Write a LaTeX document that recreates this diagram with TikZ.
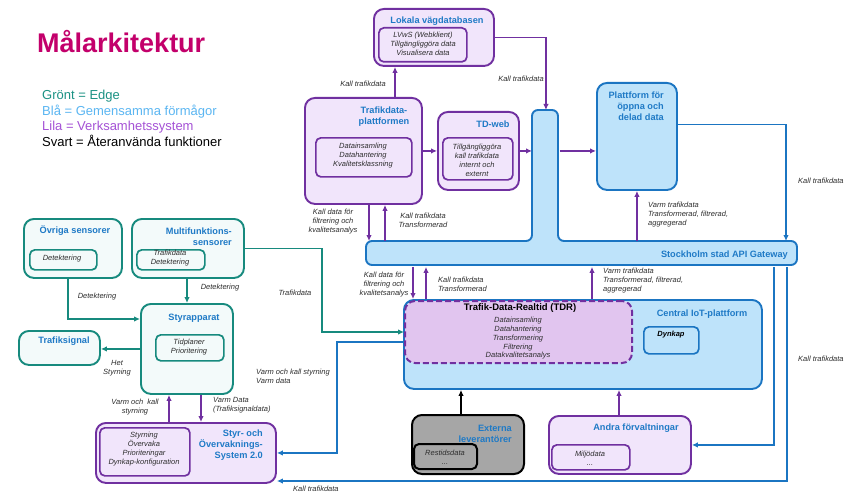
\documentclass[tikz,border=0pt]{standalone}
\usepackage{fontspec}
\setmainfont{Liberation Sans}
\usetikzlibrary{arrows.meta,calc}
\definecolor{tealc}{HTML}{178A7E}
\definecolor{tealf}{HTML}{F3FAFA}
\definecolor{purc}{HTML}{7030A0}
\definecolor{purf}{HTML}{F1E5FB}
\definecolor{bluc}{HTML}{1B75C2}
\definecolor{bluf}{HTML}{BEE3FA}
\definecolor{tdrf}{HTML}{E1C5EF}
\definecolor{grayf}{HTML}{A6A6A6}
\definecolor{titblue}{HTML}{1F7AC6}
\definecolor{magc}{HTML}{C3006B}
\definecolor{legteal}{HTML}{1B9284}
\definecolor{legblue}{HTML}{5BB6F2}
\definecolor{legpur}{HTML}{A552D6}
\definecolor{txtgray}{HTML}{2E2E2E}
\newcommand\mkbox[6]{\node[#6, minimum width={(#4-#2)*1pt}, minimum height={(#5-#3)*1pt}] (#1) at (#2,#3) {};}
\tikzset{
  obox/.style={draw, line width=1.9pt, rounded corners=10pt, anchor=north west, inner sep=0pt},
  ibox/.style={draw, line width=1.7pt, rounded corners=5pt, anchor=north west, inner sep=0pt},
  tealbox/.style={obox, draw=tealc, fill=tealf},
  tealibox/.style={ibox, draw=tealc, fill=tealf},
  purbox/.style={obox, draw=purc, fill=purf},
  puribox/.style={ibox, draw=purc, fill=purf},
  blubox/.style={obox, draw=bluc, fill=bluf},
  bluibox/.style={ibox, draw=bluc, fill=bluf},
  graybox/.style={obox, draw=black, line width=2pt, fill=grayf},
  grayibox/.style={ibox, draw=black, line width=2pt, fill=grayf},
  tdrbox/.style={obox, draw=purc, line width=2pt, dash pattern=on 6pt off 3pt, fill=tdrf},
  ttl/.style={font=\fontsize{9.2}{11}\selectfont\bfseries, text=titblue, inner sep=0pt},
  itx/.style={font=\fontsize{7.5}{9}\selectfont\itshape, text=txtgray, inner sep=0pt, align=center},
  lbl/.style={font=\fontsize{7.5}{9}\selectfont\itshape, text=txtgray, inner sep=0pt},
  leg/.style={font=\fontsize{13}{16}\selectfont, inner sep=0pt, anchor=base west},
  conn/.style={line width=1.4pt, -{Latex[length=6pt,width=5.5pt]}},
  parr/.style={conn, draw=purc},
  tarr/.style={conn, draw=tealc},
  barr/.style={conn, draw=bluc},
  karr/.style={conn, draw=black}
}
\begin{document}
\begin{tikzpicture}[x=1pt,y=-1pt]
\fill[white] (0,0) rectangle (845,492);
\useasboundingbox (0,0) rectangle (845,492);

% title and legend
\node[inner sep=0pt, anchor=base west, font=\fontsize{27}{30}\selectfont\bfseries, text=magc] (title) at (37,53) {Målarkitektur};
\node[leg, text=legteal] (leg1) at (42,100) {Grönt = Edge};
\node[leg, text=legblue] (leg2) at (42,115.5) {Blå = Gemensamma förmågor};
\node[leg, text=legpur] (leg3) at (42,131) {Lila = Verksamhetssystem};
\node[leg, text=black] (leg4) at (42,146.5) {Svart = Återanvända funktioner};

% API gateway T-shape
\draw[draw=bluc, fill=bluf, line width=1.9pt, rounded corners=6pt]
  (532,110) -- (558,110) -- (558,241) -- (797,241) -- (797,265) -- (366,265) -- (366,241) -- (532,241) -- cycle;
\mkbox{apiv}{532}{110}{558}{241}{anchor=north west, inner sep=0pt, outer sep=0.95pt}
\mkbox{apih}{366}{241}{797}{265}{anchor=north west, inner sep=0pt, outer sep=0.95pt}

% boxes
\mkbox{lokala}{373}{8}{493}{65}{purbox}
\mkbox{lokalai}{378}{27}{466}{61}{puribox}
\mkbox{tdp}{304}{97}{421}{203}{purbox}
\mkbox{tdpi}{315}{137}{411}{176}{puribox}
\mkbox{tdweb}{437}{111}{518}{189}{purbox}
\mkbox{tdwebi}{442}{137}{512}{179}{puribox}
\mkbox{platform}{596}{82}{676}{189}{blubox}
\mkbox{iot}{403}{299}{761}{388}{blubox}
\mkbox{tdr}{404}{300}{631}{362}{tdrbox}
\mkbox{dynkap}{643}{326}{698}{353}{bluibox}
\mkbox{externa}{411}{414}{523}{473}{graybox}
\mkbox{externai}{413}{443}{476}{468}{grayibox}
\mkbox{andra}{548}{415}{690}{473}{purbox}
\mkbox{andrai}{551}{444}{629}{469}{puribox}
\mkbox{styr}{95}{422}{275}{482}{purbox}
\mkbox{styri}{99}{427}{189}{475}{puribox}
\mkbox{ovriga}{23}{218}{121}{277}{tealbox}
\mkbox{ovrigai}{29}{249}{96}{269}{tealibox}
\mkbox{multi}{131}{218}{243}{277}{tealbox}
\mkbox{multii}{136}{249}{204}{269}{tealibox}
\mkbox{styrapp}{140}{303}{232}{393}{tealbox}
\mkbox{styrappi}{155}{334}{223}{360}{tealibox}
\mkbox{trafsig}{18}{330}{99}{364}{tealbox}

% titles
\node[ttl] (lokalat) at (437,21) {Lokala vägdatabasen};
\node[ttl, align=center] (tdpt) at (384,117) {Trafikdata-\\plattformen};
\node[ttl] (tdwebt) at (493,124) {TD-web};
\node[ttl, align=right, anchor=east] (platformt) at (664,106) {Plattform för\\öppna och\\delad data};
\node[ttl, anchor=east] (apit) at (788,255) {Stockholm stad API Gateway};
\node[ttl] (iott) at (702,314) {Central IoT-plattform};
\node[ttl, text=black, font=\fontsize{9.5}{11}\selectfont\bfseries] (tdrt) at (520,308) {Trafik-Data-Realtid (TDR)};
\node[ttl, align=right, anchor=east] (externat) at (512,433.5) {Externa\\leverantörer};
\node[ttl] (andrat) at (636,428) {Andra förvaltningar};
\node[ttl, align=right, anchor=east] (styrt) at (263,445) {Styr- och\\Övervaknings-\\System 2.0};
\node[ttl] (ovrigat) at (75,231) {Övriga sensorer};
\node[ttl, align=right, anchor=east] (multit) at (232,236.5) {Multifunktions-\\sensorer};
\node[ttl] (styrappt) at (194,318) {Styrapparat};
\node[ttl] (trafsigt) at (64,341) {Trafiksignal};

% inner texts
\node[itx] (lokalax) at (423,44) {LVwS (Webklient)\\Tillgängliggöra data\\Visualisera data};
\node[itx] (tdpx) at (363,156) {Datainsamling\\Datahantering\\Kvalitetsklassning};
\node[itx] (tdwebx) at (477,160.5) {Tillgängliggöra\\kall trafikdata\\internt och\\externt};
\node[itx, font=\fontsize{7.5}{8.75}\selectfont\itshape] (tdrx) at (518,338.5) {Datainsamling\\Datahantering\\Transformering\\Filtrering\\Datakvalitetsanalys};
\node[itx, font=\fontsize{7.5}{9}\selectfont\bfseries\itshape, text=black] (dynkapx) at (671,335) {Dynkap};
\node[itx] (ovrigax) at (62,259) {Detektering};
\node[itx] (multix) at (170,258.5) {Trafikdata\\Detektering};
\node[itx] (styrappx) at (189,347) {Tidplaner\\Prioritering};
\node[itx] (styrx) at (144,449.5) {Styrning\\Övervaka\\Prioriteringar\\Dynkap-konfiguration};
\node[itx] (externax) at (445,457.5) {Restidsdata\\...};
\node[itx] (andrax) at (590,458.5) {Miljödata\\...};

% purple connectors
\draw[parr] (395,0 |- tdp.north) -- (395,0 |- lokala.south);
\draw[parr] (lokala.east) -| (apiv.north);
\draw[parr] (tdp.east) -- (tdweb.west);
\draw[parr] (tdweb.east) -- (tdweb.east -| apiv.west);
\draw[parr] (apiv.east |- tdweb.east) -- (platform.west |- tdweb.east);
\draw[parr] (platform.south |- apih.north) -- (platform.south);
\draw[parr] (369,0 |- tdp.south) -- (369,0 |- apih.north);
\draw[parr] (385,0 |- apih.north) -- (385,0 |- tdp.south);
\draw[parr] (413,0 |- apih.south) -- (413,0 |- iot.north);
\draw[parr] (426,0 |- iot.north) -- (426,0 |- apih.south);
\draw[parr] (592,0 |- iot.north) -- (592,0 |- apih.south);
\draw[parr] (619,0 |- andra.north) -- (619,0 |- iot.south);
\draw[parr] (169,0 |- styr.north) -- (169,0 |- styrapp.south);
\draw[parr] (201,0 |- styrapp.south) -- (201,0 |- styr.north);
\draw[karr] (461,0 |- externa.north) -- (461,0 |- iot.south);

% teal connectors
\draw[tarr] (187,0 |- multi.south) -- (187,0 |- styrapp.north);
\draw[tarr] (68,0 |- ovriga.south) |- (styrapp.west |- 0,319);
\draw[tarr] (styrapp.west) -- (trafsig.east |- styrapp.west);
\draw[tarr] (multi.east) -| (322,0 |- tdr.west) -- (tdr.west);

% blue connectors
\draw[barr] ([yshift=12pt]platform.east) -| (786,0 |- apih.north);
\draw[barr] (iot.west |- 0,342) -| (337,0 |- styr.east) -- (styr.east);
\draw[barr] (774,0 |- apih.south) |- (andra.east);
\draw[barr] (787,0 |- apih.south) |- (styr.east |- 0,481);

% labels
\node[lbl] (l1) at (363,84) {Kall trafikdata};
\node[lbl] (l2) at (521,79) {Kall trafikdata};
\node[lbl, align=center] (l3) at (333,222) {Kall data för\\filtrering och\\kvalitetsanalys};
\node[lbl, align=center] (l4) at (423,220.5) {Kall trafikdata\\Transformerad};
\node[lbl, align=center] (l5) at (384,285) {Kall data för\\filtrering och\\kvalitetsanalys};
\node[lbl, align=left, anchor=west] (l6) at (438,284) {Kall trafikdata\\Transformerad};
\node[lbl, align=left, anchor=west] (l7) at (648,214.5) {Varm trafikdata\\Transformerad, filtrerad,\\aggregerad};
\node[lbl, align=left, anchor=west] (l8) at (603,280.5) {Varm trafikdata\\Transformerad, filtrerad,\\aggregerad};
\node[lbl, anchor=west] (l9) at (798,181) {Kall trafikdata};
\node[lbl, anchor=west] (l10) at (798,359) {Kall trafikdata};
\node[lbl, anchor=west] (l11) at (293,489) {Kall trafikdata};
\node[lbl] (l12) at (295,293) {Trafikdata};
\node[lbl, align=left, anchor=west] (l13) at (256,376.5) {Varm och kall styrning\\Varm data};
\node[lbl] (l14) at (97,297) {Detektering};
\node[lbl] (l15) at (220,288) {Detektering};
\node[lbl, align=center] (l16) at (117,368.5) {Het\\Styrning};
\node[lbl, align=center] (l17) at (135,407.5) {Varm och\ \ kall\\styrning};
\node[lbl, align=left, anchor=west] (l18) at (213,405) {Varm Data\\(Trafiksignaldata)};
\end{tikzpicture}
\end{document}
